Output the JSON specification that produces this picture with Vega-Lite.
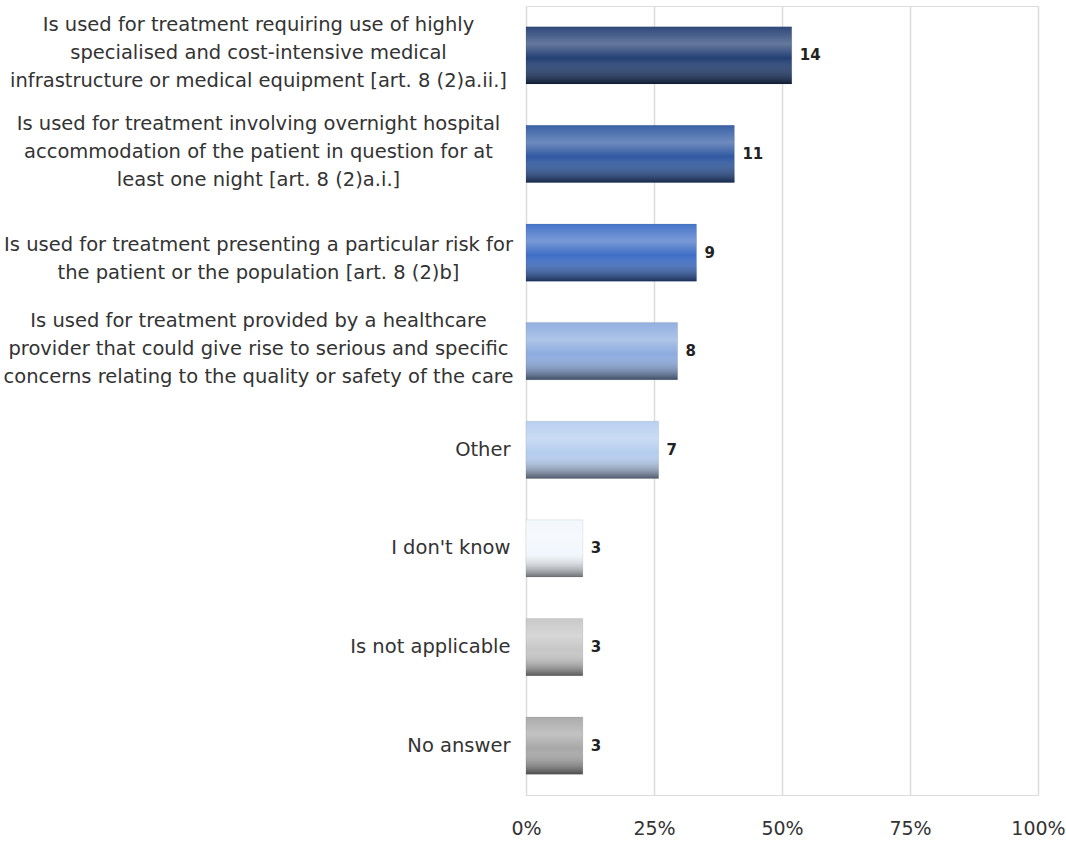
{
  "$schema": "https://vega.github.io/schema/vega-lite/v6.json",
  "width": 512,
  "height": 789,
  "autosize": {"type": "none"},
  "padding": {"left": 526, "top": 6, "right": 28, "bottom": 48},
  "background": "white",
  "data": {
    "values": [
      {"answer": "Is used for treatment requiring use of highly\nspecialised and cost-intensive medical\ninfrastructure or medical equipment [art. 8 (2)a.ii.]", "count": 14, "pct": 51.9},
      {"answer": "Is used for treatment involving overnight hospital\naccommodation of the patient in question for at\nleast one night [art. 8 (2)a.i.]", "count": 11, "pct": 40.7},
      {"answer": "Is used for treatment presenting a particular risk for\nthe patient or the population [art. 8 (2)b]", "count": 9, "pct": 33.3},
      {"answer": "Is used for treatment provided by a healthcare\nprovider that could give rise to serious and specific\nconcerns relating to the quality or safety of the care", "count": 8, "pct": 29.6},
      {"answer": "Other", "count": 7, "pct": 25.9},
      {"answer": "I don't know", "count": 3, "pct": 11.1},
      {"answer": "Is not applicable", "count": 3, "pct": 11.1},
      {"answer": "No answer", "count": 3, "pct": 11.1}
    ]
  },
  "encoding": {
    "y": {
      "field": "answer",
      "type": "nominal",
      "sort": null,
      "scale": {"paddingInner": 0.42, "paddingOuter": 0.21},
      "axis": {
        "title": null,
        "domain": false,
        "ticks": false,
        "labelExpr": "split(datum.label, '\\n')",
        "labelFont": "DejaVu Sans",
        "labelFontSize": 19.5,
        "labelLineHeight": 28,
        "labelColor": "#333333",
        "labelAlign": {"condition": {"test": "indexof(datum.value, '\\n') >= 0", "value": "center"}, "value": "right"},
        "labelPadding": {"condition": {"test": "indexof(datum.value, '\\n') >= 0", "value": 268}, "value": 16},
        "labelOffset": {
          "condition": [
            {"test": "length(split(datum.value, '\\n')) == 3", "value": -30},
            {"test": "length(split(datum.value, '\\n')) == 2", "value": -8}
          ],
          "value": 0
        },
        "labelLimit": 600
      }
    },
    "x": {
      "field": "pct",
      "type": "quantitative",
      "scale": {"domain": [0, 100]},
      "axis": {
        "title": null,
        "values": [0, 25, 50, 75, 100],
        "labelExpr": "datum.value + '%'",
        "domain": false,
        "ticks": false,
        "grid": true,
        "gridColor": "#dcdcdc",
        "gridWidth": 1.5,
        "labelFont": "DejaVu Sans",
        "labelFontSize": 19,
        "labelColor": "#333333",
        "labelPadding": 24,
        "labelFlush": false
      }
    }
  },
  "layer": [
    {
      "mark": {"type": "bar"},
      "encoding": {
        "color": {
          "field": "answer",
          "type": "nominal",
          "legend": null,
          "scale": {
            "domain": [
              "Is used for treatment requiring use of highly\nspecialised and cost-intensive medical\ninfrastructure or medical equipment [art. 8 (2)a.ii.]",
              "Is used for treatment involving overnight hospital\naccommodation of the patient in question for at\nleast one night [art. 8 (2)a.i.]",
              "Is used for treatment presenting a particular risk for\nthe patient or the population [art. 8 (2)b]",
              "Is used for treatment provided by a healthcare\nprovider that could give rise to serious and specific\nconcerns relating to the quality or safety of the care",
              "Other",
              "I don't know",
              "Is not applicable",
              "No answer"
            ],
            "range": ["#233f73", "#3059a2", "#3e6ec6", "#8cabdf", "#b4cdef", "#f2f7fd", "#c6c6c6", "#a8a8a8"]
          }
        }
      }
    },
    {
      "mark": {
        "type": "bar",
        "color": {
          "gradient": "linear",
          "x1": 0, "y1": 0, "x2": 0, "y2": 1,
          "stops": [
            {"offset": 0, "color": "rgba(255,255,255,0.05)"},
            {"offset": 0.3, "color": "rgba(255,255,255,0.3)"},
            {"offset": 0.55, "color": "rgba(255,255,255,0)"},
            {"offset": 1, "color": "rgba(0,0,0,0.55)"}
          ]
        },
        "stroke": "rgba(0,0,0,0.15)",
        "strokeWidth": 0.5
      },
      "encoding": {}
    },
    {
      "mark": {"type": "text", "align": "left", "dx": 8, "font": "DejaVu Sans", "fontSize": 15, "fontWeight": "bold", "color": "#222222"},
      "encoding": {
        "text": {"field": "count", "type": "quantitative"}
      }
    }
  ]
}
